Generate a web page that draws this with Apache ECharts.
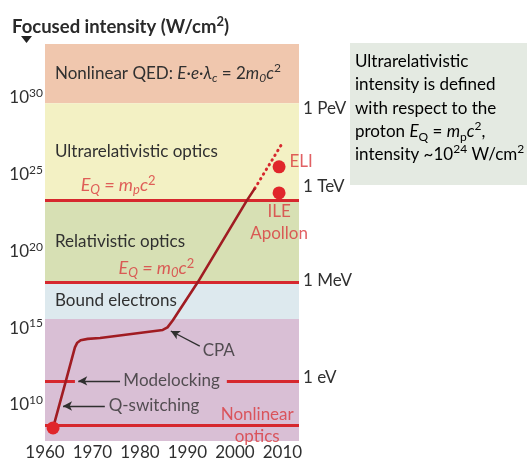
<!DOCTYPE html>
<html>
<head>
<meta charset="utf-8">
<script src="https://cdn.jsdelivr.net/npm/echarts@6/dist/echarts.min.js"></script>
<style>
  html, body { margin: 0; padding: 0; background: #fff; }
  #chart { width: 527px; height: 463px; }
</style>
</head>
<body>
<div id="chart"></div>
<script>
// intensity is plotted as log10(W/cm^2)
const curveYears = [1961.7, 1964.4, 1966.3, 1966.8, 1967.5, 1969, 1971.6, 1984.8, 1985.8, 1986.9, 1992.2, 2002.5, 2004.2];
const curveLog = [8.5, 11.56, 13.75, 14.05, 14.21, 14.3, 14.36, 14.88, 15.05, 15.5, 18.0, 23.3, 24.1];
const projectedYears = [2004.2, 2010.1];
const projectedLog = [24.1, 27.1];
const startDot = [1961.7, 8.5];
const facilityYears = [2009.3, 2009.3];
const facilityLog = [25.5, 23.8];
const facilityNames = ['ELI', 'ILE Apollon'];

const bandEdges = [33.5, 29.65, 23.34, 18.0, 15.59, 7.65];
const bandColors = ['#f0c7ae', '#f3f1c4', '#d7e0b4', '#dde9ee', '#d9bfd5'];

const protonLine = 23.34;
const electronLine = 18.0;
const nonlinearLine = 8.69;
const modelockLine = 11.56;
const modelockSegments = [[1960, 1966.3], [1998.3, 2013.5]];

const yTicks = [10, 15, 20, 25, 30];
const energyLevels = [11.8, 18.07, 24.25, 29.33];
const energyLabels = ['1 eV', '1 MeV', '1 TeV', '1 PeV'];

const xMin = 1960, xMax = 2013.5, yMin = 7.65, yMax = 33.5;

const FONT = 'Lato';
const DARK = '#303030';
const RED = '#d6282e';
const RED_TXT = '#d9383c';

function richSet(color, size) {
  size = size || 17;
  return {
    t: { fontFamily: FONT, fontSize: size, color: color, lineHeight: 22 },
    i: { fontFamily: FONT, fontSize: size, color: color, lineHeight: 22, fontStyle: 'italic' },
    sub: { fontFamily: FONT, fontSize: size - 5, color: color, lineHeight: 12, verticalAlign: 'bottom', fontStyle: 'italic' },
    sup: { fontFamily: FONT, fontSize: size - 5, color: color, lineHeight: 12, verticalAlign: 'top' }
  };
}

const bandTexts = [
  '{t|Nonlinear QED: }{i|E}{t|·}{i|e}{t|·}{i|λ}{sub|c}{t| = 2}{i|m}{sub|0}{i|c}{sup|2}',
  '{t|Ultrarelativistic optics}',
  '{t|Relativistic optics}',
  '{t|Bound electrons}',
  ''
];

const bandAreas = bandColors.map((c, k) => [
  {
    yAxis: bandEdges[k],
    itemStyle: { color: c },
    label: {
      show: bandTexts[k] !== '', position: 'insideLeft', distance: 10,
      formatter: bandTexts[k], rich: richSet(DARK)
    }
  },
  { yAxis: bandEdges[k + 1] }
]);

const redLines = [
  { yAxis: protonLine },
  { yAxis: electronLine },
  { yAxis: nonlinearLine }
].concat(modelockSegments.map(s => [
  { coord: [s[0], modelockLine] }, { coord: [s[1], modelockLine] }
]));

function note(x, y, text, color, pos, size) {
  return {
    value: [x, y],
    label: {
      show: true, position: pos || 'right', distance: 0,
      formatter: text, rich: richSet(color, size), lineHeight: 23
    }
  };
}

const notes = [
  note(1967.4, 24.32, '{i|E}{sub|Q}{i| = m}{sub|p}{i|c}{sup|2}', RED_TXT, 'right', 18),
  note(1975.4, 18.91, '{i|E}{sub|Q}{i| = m}{sub|0}{i|c}{sup|2}', RED_TXT, 'right', 18),
  note(1993.1, 13.57, '{t|CPA}', DARK),
  note(1976.4, 11.56, '{t|Modelocking}', DARK),
  note(1973.3, 9.93, '{t|Q-switching}', DARK),
  note(2004.7, 8.69, '{t|Nonlinear}\n{t|optics}', RED_TXT, 'inside'),
  note(2011.4, 25.88, '{t|' + facilityNames[0] + '}', RED_TXT),
  note(2009.3, 21.87, '{t|ILE}\n{t|Apollon}', RED_TXT, 'inside')
];

const arrows = [
  [[1992.6, 13.83], [1986.5, 14.81]],
  [[1975.8, 11.56], [1967.0, 11.56]],
  [[1972.6, 9.93], [1963.8, 9.93]]
];

const chart = echarts.init(document.getElementById('chart'), null, { renderer: 'canvas' });

chart.setOption({
  animation: false,
  backgroundColor: '#fff',
  title: {
    text: '{b|Focused intensity (W/cm}{s|2}{b|)}',
    left: 7, top: 10,
    textStyle: {
      rich: {
        b: { fontFamily: FONT, fontSize: 18.5, fontWeight: 'bold', color: '#2a2a2a', lineHeight: 24 },
        s: { fontFamily: FONT, fontSize: 13, fontWeight: 'bold', color: '#2a2a2a', lineHeight: 13, verticalAlign: 'top' }
      }
    }
  },
  grid: { left: 45, right: 228, top: 44, bottom: 22, containLabel: false },
  xAxis: {
    type: 'value', min: xMin, max: xMax, interval: 10,
    axisLine: { show: false }, axisTick: { show: false }, splitLine: { show: false },
    axisLabel: { margin: 3, fontFamily: FONT, fontSize: 17, color: DARK, formatter: v => String(v) }
  },
  yAxis: [
    {
      type: 'value', min: yMin, max: yMax,
      axisLine: { show: false }, axisTick: { show: false }, splitLine: { show: false },
      axisLabel: {
        customValues: yTicks, margin: 2,
        formatter: v => '{n|10}{p|' + v + '}',
        rich: {
          n: { fontFamily: FONT, fontSize: 17, color: DARK, lineHeight: 21 },
          p: { fontFamily: FONT, fontSize: 12, color: DARK, lineHeight: 12, verticalAlign: 'top' }
        }
      }
    },
    {
      type: 'value', min: yMin, max: yMax, position: 'right',
      axisLine: { show: false }, axisTick: { show: false }, splitLine: { show: false },
      axisLabel: {
        customValues: energyLevels, margin: 4,
        fontFamily: FONT, fontSize: 17, color: DARK,
        formatter: v => energyLabels[energyLevels.indexOf(v)]
      }
    }
  ],
  graphic: [
    { type: 'polygon', shape: { points: [[21, 36], [32, 36], [26.5, 43]] }, style: { fill: '#222' } },
    { type: 'rect', shape: { x: 350, y: 43, width: 180, height: 142 }, style: { fill: '#e4eae2' } },
    {
      type: 'text', x: 355, y: 50,
      style: {
        text: '{t|Ultrarelativistic}\n{t|intensity is defined}\n{t|with respect to the}\n' +
              '{t|proton }{i|E}{sub|Q}{t| = }{i|m}{sub|p}{i|c}{sup|2}{t|,}\n' +
              '{t|intensity ~10}{sup|24}{t| W/cm}{sup|2}',
        verticalAlign: 'top', align: 'left',
        rich: (function () {
          const r = richSet(DARK, 17);
          r.t.lineHeight = 23.3; r.i.lineHeight = 23.3;
          r.sub.fontStyle = 'normal';
          return r;
        })()
      }
    }
  ],
  series: [
    {
      name: 'bands', type: 'line', data: [], silent: true, z: 1,
      markArea: { silent: true, data: bandAreas }
    },
    {
      name: 'thresholds', type: 'line', data: [], silent: true, z: 2,
      markLine: {
        silent: true, symbol: ['none', 'none'],
        lineStyle: { color: RED, width: 3, type: 'solid' },
        label: { show: false },
        data: redLines
      }
    },
    {
      name: 'arrows', type: 'line', data: [], silent: true, z: 3,
      markLine: {
        silent: true, symbol: ['none', 'arrow'], symbolSize: [7, 9],
        lineStyle: { color: '#2f2f2f', width: 1.3, type: 'solid' },
        label: { show: false },
        data: arrows.map(a => [{ coord: a[0] }, { coord: a[1] }])
      }
    },
    {
      name: 'projection', type: 'line', silent: true, z: 4,
      data: projectedYears.map((x, k) => [x, projectedLog[k]]),
      symbol: 'none',
      lineStyle: { color: RED, width: 3, type: [0.5, 5], cap: 'round' }
    },
    {
      name: 'peak intensity', type: 'line', silent: true, z: 5,
      data: curveYears.map((x, k) => [x, curveLog[k]]),
      symbol: 'none', smooth: false,
      lineStyle: { color: '#a01c22', width: 2.6, join: 'round' }
    },
    {
      name: 'milestones', type: 'scatter', silent: true, z: 6,
      data: [startDot].concat(facilityYears.map((x, k) => [x, facilityLog[k]])),
      symbolSize: 13,
      itemStyle: { color: '#e0262b', opacity: 1 }
    },
    {
      name: 'notes', type: 'scatter', silent: true, z: 7,
      symbolSize: 1, itemStyle: { color: 'rgba(0,0,0,0)' },
      data: notes
    }
  ]
});
</script>
</body>
</html>
